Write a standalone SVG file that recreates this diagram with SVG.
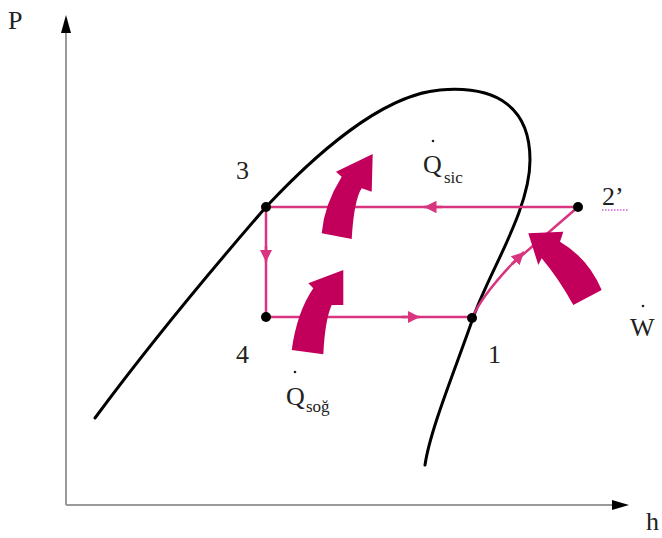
<svg xmlns="http://www.w3.org/2000/svg" width="662" height="538" viewBox="0 0 662 538">
<style>
.lbl{font-family:"Liberation Serif","Times New Roman",serif;font-size:26px;fill:#222}
.sub{font-family:"Liberation Serif","Times New Roman",serif;font-size:17px;fill:#222}
.axis{stroke:#9a9a9a;stroke-width:2;fill:none}
.dome{stroke:#000;stroke-width:3;fill:none;stroke-linecap:round}
.flow{stroke:#d8347f;stroke-width:2.5;fill:none}
.big{fill:#c2005c}
.pt{fill:#000}
</style>
<defs>
<marker id="ah" viewBox="0 0 10 10" refX="10" refY="5" markerWidth="5" markerHeight="5" markerUnits="strokeWidth" orient="auto">
<path d="M0,0 L10,5 L0,10 Z" fill="#d8347f"/>
</marker>
</defs>
<rect width="662" height="538" fill="#fff"/>
<g id="axes">
<line class="axis" x1="66" y1="30" x2="66" y2="505"/>
<line class="axis" x1="66" y1="505" x2="615" y2="505"/>
<path d="M66,15 L71,33 L61,33 Z" fill="#000"/>
<path d="M629,505 L612,500 L612,510 Z" fill="#000"/>
<text class="lbl" x="8" y="29">P</text>
<text class="lbl" x="646" y="530">h</text>
</g>
<g id="dome">
<path class="dome" d="M95,418 C160,330 220,260 266,207 C310,160 380,95 440,90 C500,85 530,110 530,160 C530,210 490,270 473,318 C455,370 430,430 425,465"/>
</g>
<g id="connectors">
<line class="flow" x1="578" y1="207" x2="266" y2="207"/>
<path class="flow" d="M442,207 L424,207" marker-end="url(#ah)"/>
<line class="flow" x1="266" y1="207" x2="266" y2="317"/>
<path class="flow" d="M266,246 L266,262" marker-end="url(#ah)"/>
<line class="flow" x1="266" y1="317" x2="472" y2="317"/>
<path class="flow" d="M402,317 L420,317" marker-end="url(#ah)"/>
<path class="flow" d="M472,318 C480,300 495,282 512,264 L578,207"/>
<path class="flow" d="M512,264 L524,252" marker-end="url(#ah)"/>
</g>
<g id="heat-arrows">
<path id="arrow-qsic" class="big" d="M321.7,233.3 Q324,205 341.7,176.7 L336,171.7 L372.7,154 L371.7,191.7 L361.7,188.3 Q354,200 351.7,239 Z"/>
<path id="arrow-qsog" class="big" d="M291.7,350 Q297,312 313.3,288.3 L308.3,283.3 L343.3,270 L343.3,305 L331.7,305 Q325,320 323.3,354.3 Z"/>
<path id="arrow-w" class="big" d="M528.3,233.3 L563.3,231.7 L560,241.7 Q588,258 601.7,290 L573.3,305 Q559,279 541.7,258.3 L538.3,265 Z"/>
</g>
<g id="node-3"><circle class="pt" cx="266" cy="207" r="5"/><text class="lbl" x="236" y="179">3</text></g>
<g id="node-4"><circle class="pt" cx="266" cy="317" r="5"/><text class="lbl" x="236" y="363">4</text></g>
<g id="node-1"><circle class="pt" cx="472" cy="318" r="5"/><text class="lbl" x="488" y="363">1</text></g>
<g id="node-2p"><circle class="pt" cx="578" cy="207" r="5"/><text class="lbl" x="602" y="205">2’</text>
<line x1="602" y1="210" x2="628" y2="210" stroke="#d060d8" stroke-width="1.5" stroke-dasharray="1.5 1.5"/></g>
<g id="label-qsic"><circle cx="433" cy="141" r="1.3" fill="#222"/><text class="lbl" x="423" y="173">Q</text><text class="sub" x="444" y="183">sic</text></g>
<g id="label-qsog"><circle cx="295" cy="372" r="1.3" fill="#222"/><text class="lbl" x="286" y="405">Q</text><text class="sub" x="306" y="412">soğ</text></g>
<g id="label-w"><circle cx="643" cy="306" r="1.3" fill="#222"/><text class="lbl" x="630" y="336">W</text></g>
</svg>
